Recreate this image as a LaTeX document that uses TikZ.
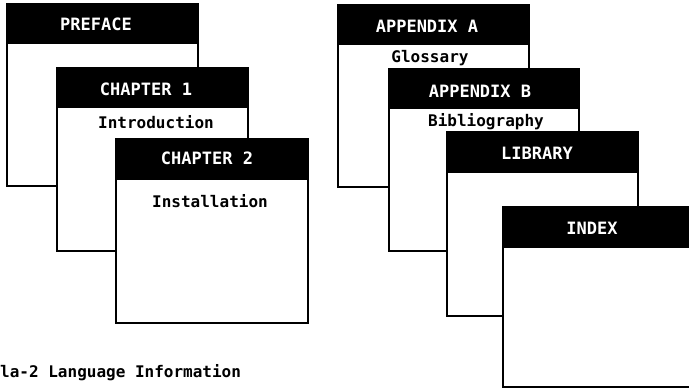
\documentclass[tikz,border=0pt]{standalone}
\usepackage{fontspec}
\setmonofont{DejaVu Sans Mono}
\begin{document}
\begin{tikzpicture}[x=1pt,y=-1pt,
  pagebox/.style={draw=black,fill=white,line width=1.4pt},
  headbar/.style={fill=black},
  headtext/.style={text=white,font=\ttfamily\bfseries\fontsize{17}{20}\selectfont,inner sep=0pt},
  bodytext/.style={text=black,font=\ttfamily\bfseries\fontsize{16}{19}\selectfont,inner sep=0pt}]
\useasboundingbox (0,0) rectangle (689,389);
\clip (0,0) rectangle (689,389);

% one page: left, top, right, bottom, bottom of the title bar
\newcommand{\docpage}[5]{%
  \draw[pagebox] (#1,#2) rectangle (#3,#4);
  \fill[headbar] (#1,#2) rectangle (#3,#5);
  \draw[line width=1.4pt] (#1,#2) rectangle (#3,#4);
}

% left stack
\docpage{7}{4}{198}{186}{44}
\node[headtext] (preface) at (96,24) {PREFACE};
\docpage{57}{68}{248}{251}{108}
\node[headtext] (ch1) at (146,89) {CHAPTER 1};
\node[bodytext] (intro) at (156,122) {Introduction};
\docpage{116}{139}{308}{323}{180}
\node[headtext] (ch2) at (207,158) {CHAPTER 2};
\node[bodytext] (install) at (210,201) {Installation};

% right stack
\docpage{338}{5}{529}{187}{45}
\node[headtext] (appa) at (427,26) {APPENDIX A};
\node[bodytext] (gloss) at (430,58) {Glossary};
\docpage{389}{69}{579}{251}{109}
\node[headtext] (appb) at (480,91) {APPENDIX B};
\node[bodytext] (biblio) at (486,122) {Bibliography};
\docpage{447}{132}{638}{316}{173}
\node[headtext] (library) at (537,153) {LIBRARY};
\docpage{503}{207}{694}{387}{248}
\node[headtext] (index) at (592,228) {INDEX};

% caption
\node[bodytext,anchor=west] (caption) at (0,373) {la-2 Language Information};
\end{tikzpicture}
\end{document}
